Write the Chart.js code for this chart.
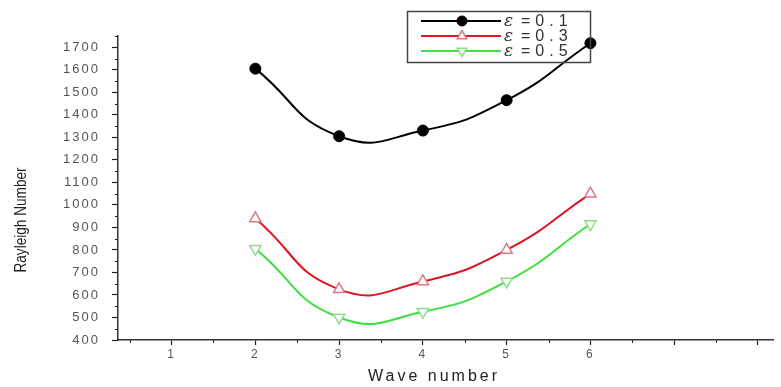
<!DOCTYPE html>
<html>
<head>
<meta charset="utf-8">
<script src="https://cdn.jsdelivr.net/npm/chart.js@4/dist/chart.umd.min.js"></script>
<style>
  html, body { margin: 0; padding: 0; background: #fff; }
  #wrap { width: 781px; height: 387px; }
</style>
</head>
<body>
<div id="wrap"><canvas id="c" width="781" height="387"></canvas></div>
<script>
// ---- data ----
const waveNumbers = [2, 3, 4, 5, 6];
const ra01 = [1605, 1305, 1330, 1465, 1718];
const ra03 = [940, 625, 660, 800, 1050];
const ra05 = [805, 500, 525, 660, 915];
const seriesNames = ['=0.1', '=0.3', '=0.5'];
const yTickValues = [400, 500, 600, 700, 800, 900, 1000, 1100, 1200, 1300, 1400, 1500, 1600, 1700];
const yMinorValues = [450, 550, 650, 750, 850, 950, 1050, 1150, 1250, 1350, 1450, 1550, 1650, 1750];
const xTickValues = [1, 2, 3, 4, 5, 6, 7, 8];
const xTickLabels = ['1', '2', '3', '4', '5', '6'];
const xMinorValues = [0.5, 1.5, 2.5, 3.5, 4.5, 5.5, 6.5, 7.5];
const xTitle = 'Wave number';
const yTitle = 'Rayleigh Number';

function toPoints(xs, ys) { return xs.map((x, i) => ({ x: x, y: ys[i] })); }

const datasets = [
  { label: seriesNames[0], data: toPoints(waveNumbers, ra01), borderColor: '#000000', borderWidth: 2,
    pointStyle: 'circle', pointRadius: 5.5, pointBackgroundColor: '#000000', pointBorderColor: '#000000', pointBorderWidth: 1, pointRotation: 0 },
  { label: seriesNames[1], data: toPoints(waveNumbers, ra03), borderColor: '#e0141e', borderWidth: 2,
    pointStyle: 'triangle', pointRadius: 6.5, pointBackgroundColor: '#ffffff', pointBorderColor: '#e07583', pointBorderWidth: 1.5, pointRotation: 0 },
  { label: seriesNames[2], data: toPoints(waveNumbers, ra05), borderColor: '#3ede3e', borderWidth: 2,
    pointStyle: 'triangle', pointRadius: 6.5, pointBackgroundColor: '#ffffff', pointBorderColor: '#8fdc8f', pointBorderWidth: 1.5, pointRotation: 180 }
];
datasets.forEach(d => { d.tension = 0.5; d.fill = false; d.pointHoverRadius = d.pointRadius; });

const decor = {
  id: 'decor',
  beforeDraw(chart) {
    chart.ctx.letterSpacing = '2px';
  },
  afterDraw(chart) {
    const ctx = chart.ctx;
    const xs = chart.scales.x, ys = chart.scales.y;
    ctx.save();
    // minor ticks
    ctx.strokeStyle = '#222';
    ctx.lineWidth = 1;
    ctx.beginPath();
    yMinorValues.forEach(v => {
      const p = Math.round(ys.getPixelForValue(v)) + 0.5;
      ctx.moveTo(xs.left - 3, p); ctx.lineTo(xs.left, p);
    });
    xMinorValues.forEach(v => {
      const p = Math.round(xs.getPixelForValue(v)) + 0.5;
      ctx.moveTo(p, ys.bottom); ctx.lineTo(p, ys.bottom + 3);
    });
    ctx.stroke();

    // axis titles
    ctx.fillStyle = '#222';
    ctx.letterSpacing = '3px';
    ctx.font = '16px "Liberation Sans", Arial, sans-serif';
    ctx.textAlign = 'center';
    ctx.textBaseline = 'middle';
    ctx.fillText(xTitle, 434, 377);
    ctx.save();
    ctx.translate(21, 220);
    ctx.rotate(-Math.PI / 2);
    ctx.scale(0.8, 1);
    ctx.letterSpacing = '0px';
    ctx.font = '17px "Liberation Sans", Arial, sans-serif';
    ctx.fillText(yTitle, 0, 0);
    ctx.restore();

    // legend
    const bx = 407, by = 11, bw = 183, bh = 51;
    ctx.letterSpacing = '0px';
    ctx.strokeStyle = '#444';
    ctx.lineWidth = 1.5;
    ctx.strokeRect(bx + 0.5, by + 0.5, bw, bh);
    const rowsY = [21, 36, 51];
    chart.data.datasets.forEach((ds, i) => {
      const y = rowsY[i];
      ctx.strokeStyle = ds.borderColor;
      ctx.lineWidth = 2;
      ctx.beginPath();
      ctx.moveTo(421, y); ctx.lineTo(501, y);
      ctx.stroke();
      ctx.fillStyle = ds.pointBackgroundColor;
      ctx.strokeStyle = ds.pointBorderColor;
      ctx.lineWidth = ds.pointBorderWidth;
      ctx.beginPath();
      if (ds.pointStyle === 'circle') {
        ctx.arc(462, y, 5, 0, Math.PI * 2);
      } else {
        const r = 5.5, up = ds.pointRotation === 0 ? 1 : -1;
        ctx.moveTo(462, y - up * r);
        ctx.lineTo(462 + r * 0.87, y + up * r * 0.5);
        ctx.lineTo(462 - r * 0.87, y + up * r * 0.5);
        ctx.closePath();
      }
      ctx.fill(); ctx.stroke();
      ctx.fillStyle = '#333';
      ctx.textAlign = 'left';
      ctx.textBaseline = 'middle';
      ctx.font = 'italic 17px "DejaVu Serif", serif';
      ctx.letterSpacing = '0px';
      ctx.fillText('\u03b5', 504, y + 1);
      ctx.font = '16px "Liberation Sans", Arial, sans-serif';
      ctx.letterSpacing = '5px';
      ctx.fillText(ds.label, 521, y + 1);
    });
    ctx.restore();
    ctx.letterSpacing = '0px';
  }
};

new Chart(document.getElementById('c'), {
  type: 'line',
  data: { datasets: datasets },
  options: {
    responsive: false,
    animation: false,
    devicePixelRatio: 1,
    layout: { padding: { top: 36, right: 0, left: 0, bottom: 0 } },
    plugins: { legend: { display: false }, tooltip: { enabled: false } },
    scales: {
      x: {
        type: 'linear', position: 'bottom', min: 0.36, max: 8.18,
        afterBuildTicks(scale) { scale.ticks = xTickValues.map(v => ({ value: v })); },
        afterFit(scale) { scale.height = 47; },
        border: { display: true, color: '#333', width: 1.5 },
        grid: { display: true, drawOnChartArea: false, drawTicks: true, tickLength: 5, color: '#222', tickWidth: 1.2 },
        ticks: {
          autoSkip: false, maxRotation: 0, padding: 2, color: '#555',
          font: { family: '"Liberation Sans", Arial, sans-serif', size: 12 },
          callback(value) {
            const i = xTickValues.indexOf(value);
            return i >= 0 && i < xTickLabels.length ? xTickLabels[i] : '';
          }
        }
      },
      y: {
        type: 'linear', min: 400, max: 1750,
        afterBuildTicks(scale) { scale.ticks = yTickValues.map(v => ({ value: v })); },
        afterFit(scale) { scale.width = 118; },
        border: { display: true, color: '#333', width: 1.5 },
        grid: { display: true, drawOnChartArea: false, drawTicks: true, tickLength: 6, color: '#222', tickWidth: 1.2 },
        ticks: {
          padding: 12, color: '#555',
          font: { family: '"Liberation Sans", Arial, sans-serif', size: 13 },
          callback(value) { return String(value); }
        }
      }
    }
  },
  plugins: [decor]
});
</script>
</body>
</html>
